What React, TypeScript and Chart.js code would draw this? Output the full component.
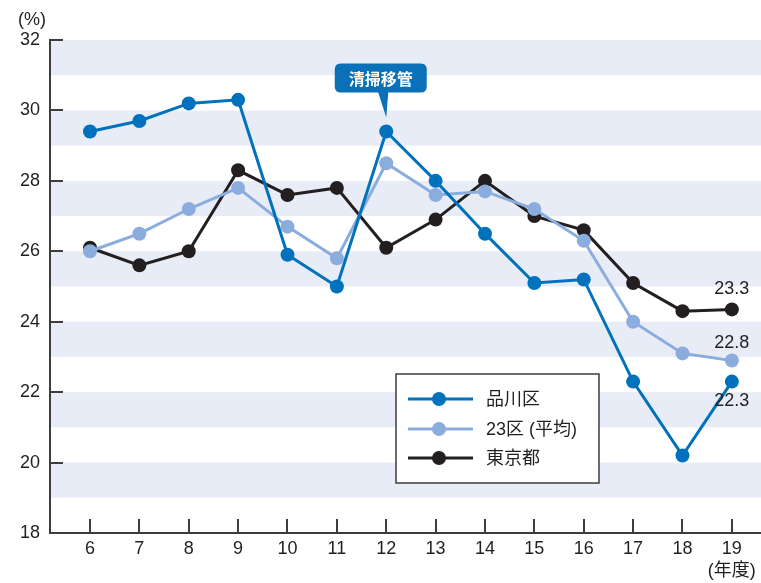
import React, { useEffect, useRef } from "react";
import { Chart, registerables } from "chart.js";

Chart.register(...registerables);

const years = [6, 7, 8, 9, 10, 11, 12, 13, 14, 15, 16, 17, 18, 19];
const shinagawaValues = [29.4, 29.7, 30.2, 30.3, 25.9, 25.0, 29.4, 28.0, 26.5, 25.1, 25.2, 22.3, 20.2, 22.3];
const ku23Values = [26.0, 26.5, 27.2, 27.8, 26.7, 25.8, 28.5, 27.6, 27.7, 27.2, 26.3, 24.0, 23.1, 22.9];
const tokyoValues = [26.1, 25.6, 26.0, 28.3, 27.6, 27.8, 26.1, 26.9, 28.0, 27.0, 26.6, 25.1, 24.3, 24.35];
const seriesNames = ["品川区", "23区 (平均)", "東京都"];
const seriesColors = ["#0071bc", "#8badde", "#231f20"];
const endLabels = ["22.3", "22.8", "23.3"];
const yTickValues = [18, 20, 22, 24, 26, 28, 30, 32];
const yUnit = "(%)";
const xUnit = "(年度)";
const calloutText = "清掃移管";
const calloutYear = 12;

const TEXT = "#231f20";
const AXIS = "#3d3d3d";
const BAND = "#e8ecf7";
const FONT = "'Liberation Sans', Arial, 'Noto Sans CJK JP', sans-serif";

const decorPlugin = {
  id: "decor",
  beforeDraw(chart: any) {
    const { ctx, chartArea, scales } = chart;
    const y = scales.y;
    ctx.save();
    ctx.fillStyle = BAND;
    for (const v of yTickValues) {
      if (v <= y.min) continue;
      const top = y.getPixelForValue(v);
      const bot = y.getPixelForValue(v - 1);
      ctx.fillRect(chartArea.left, top, chartArea.right - chartArea.left, bot - top);
    }
    ctx.restore();
  },
  afterDraw(chart: any) {
    const { ctx, chartArea, scales } = chart;
    const x = scales.x;
    const y = scales.y;
    ctx.save();

    // inward tick marks
    ctx.strokeStyle = AXIS;
    ctx.lineWidth = 2;
    ctx.beginPath();
    for (const v of yTickValues) {
      if (v <= y.min) continue;
      const py = Math.round(y.getPixelForValue(v));
      ctx.moveTo(chartArea.left, py);
      ctx.lineTo(chartArea.left + 13, py);
    }
    for (const yr of years) {
      const px = Math.round(x.getPixelForValue(yr));
      ctx.moveTo(px, chartArea.bottom);
      ctx.lineTo(px, chartArea.bottom - 14);
    }
    ctx.stroke();

    // unit labels
    ctx.fillStyle = TEXT;
    ctx.font = `18px ${FONT}`;
    ctx.textAlign = "center";
    ctx.textBaseline = "middle";
    ctx.fillText(yUnit, 32, chartArea.top - 20);
    ctx.fillText(xUnit, x.getPixelForValue(years[years.length - 1]), chartArea.bottom + 38);

    // end labels
    const offsets = [19, -17, -20];
    chart.data.datasets.forEach((ds: any, i: number) => {
      const meta = chart.getDatasetMeta(i);
      const pt = meta.data[meta.data.length - 1];
      ctx.fillText(endLabels[i], pt.x, pt.y + offsets[i]);
    });

    // callout
    const idx = years.indexOf(calloutYear);
    const p = chart.getDatasetMeta(0).data[idx];
    const tipX = p.x;
    const tipY = p.y - 14;
    const bw = 92, bh = 29, r = 6;
    const bx = tipX - 5.5 - bw / 2;
    const by = tipY - 25 - bh;
    ctx.fillStyle = "#0a70b8";
    ctx.beginPath();
    ctx.moveTo(bx + r, by);
    ctx.lineTo(bx + bw - r, by);
    ctx.quadraticCurveTo(bx + bw, by, bx + bw, by + r);
    ctx.lineTo(bx + bw, by + bh - r);
    ctx.quadraticCurveTo(bx + bw, by + bh, bx + bw - r, by + bh);
    ctx.lineTo(tipX + 2, by + bh);
    ctx.lineTo(tipX, tipY);
    ctx.lineTo(tipX - 8, by + bh);
    ctx.lineTo(bx + r, by + bh);
    ctx.quadraticCurveTo(bx, by + bh, bx, by + bh - r);
    ctx.lineTo(bx, by + r);
    ctx.quadraticCurveTo(bx, by, bx + r, by);
    ctx.closePath();
    ctx.fill();
    ctx.fillStyle = "#ffffff";
    ctx.font = `bold 16px 'Noto Sans CJK JP', sans-serif`;
    ctx.fillText(calloutText, bx + bw / 2, by + bh / 2 + 1);

    // legend
    const lx = 396, ly = 374, lw = 203, lh = 109;
    ctx.fillStyle = "#ffffff";
    ctx.fillRect(lx, ly, lw, lh);
    ctx.strokeStyle = AXIS;
    ctx.lineWidth = 1.5;
    ctx.strokeRect(lx, ly, lw, lh);
    const rows = [399, 429, 458];
    chart.data.datasets.forEach((ds: any, i: number) => {
      const ry = rows[i];
      ctx.strokeStyle = ds.borderColor;
      ctx.lineWidth = 3;
      ctx.beginPath();
      ctx.moveTo(408, ry);
      ctx.lineTo(473, ry);
      ctx.stroke();
      ctx.fillStyle = ds.borderColor;
      ctx.beginPath();
      ctx.arc(439, ry, 7, 0, Math.PI * 2);
      ctx.fill();
      ctx.fillStyle = TEXT;
      ctx.textAlign = "left";
      ctx.font = `18px ${FONT}`;
      ctx.fillText(ds.label, 486, ry + 1);
    });

    ctx.restore();
  },
};

export default function App() {
  const ref = useRef<HTMLCanvasElement>(null);
  useEffect(() => {
    document.body.style.margin = "0";
    const seriesValues = [shinagawaValues, ku23Values, tokyoValues];
    const chart = new Chart(ref.current as HTMLCanvasElement, {
      type: "line",
      data: {
        datasets: seriesValues.map((vals, i) => ({
          label: seriesNames[i],
          data: years.map((yr, j) => ({ x: yr, y: vals[j] })),
          borderColor: seriesColors[i],
          backgroundColor: seriesColors[i],
          pointBackgroundColor: seriesColors[i],
          borderWidth: 3,
          pointRadius: 7,
          pointBorderWidth: 0,
          tension: 0,
          fill: false,
        })),
      },
      options: {
        animation: false,
        responsive: false,
        devicePixelRatio: 1,
        layout: { autoPadding: false, padding: { top: 40, left: 0, right: 0, bottom: 0 } },
        plugins: { legend: { display: false }, tooltip: { enabled: false } },
        scales: {
          x: {
            type: "linear",
            min: 5.19,
            max: 19.59,
            afterBuildTicks: (s: any) => {
              s.ticks = years.map((v) => ({ value: v }));
            },
            afterFit: (s: any) => {
              s.height = 50;
              s.paddingLeft = 0;
              s.paddingRight = 0;
            },
            ticks: {
              autoSkip: false,
              maxRotation: 0,
              padding: 5,
              color: TEXT,
              font: { family: FONT, size: 18 },
              callback: (v: any) => String(v),
            },
            grid: { display: false, drawTicks: false },
            border: { display: true, color: AXIS, width: 2 },
          },
          y: {
            type: "linear",
            min: 18,
            max: 32,
            afterBuildTicks: (s: any) => {
              s.ticks = yTickValues.map((v) => ({ value: v }));
            },
            afterFit: (s: any) => {
              s.width = 50;
            },
            ticks: {
              padding: 10,
              color: TEXT,
              font: { family: FONT, size: 18 },
              callback: (v: any) => String(v),
            },
            grid: { display: false, drawTicks: false },
            border: { display: true, color: AXIS, width: 2 },
          },
        },
      },
      plugins: [decorPlugin],
    } as any);
    return () => chart.destroy();
  }, []);
  return (
    <div style={{ position: "absolute", left: 0, top: 0, width: 761, height: 583 }}>
      <canvas ref={ref} width={761} height={583} />
    </div>
  );
}
